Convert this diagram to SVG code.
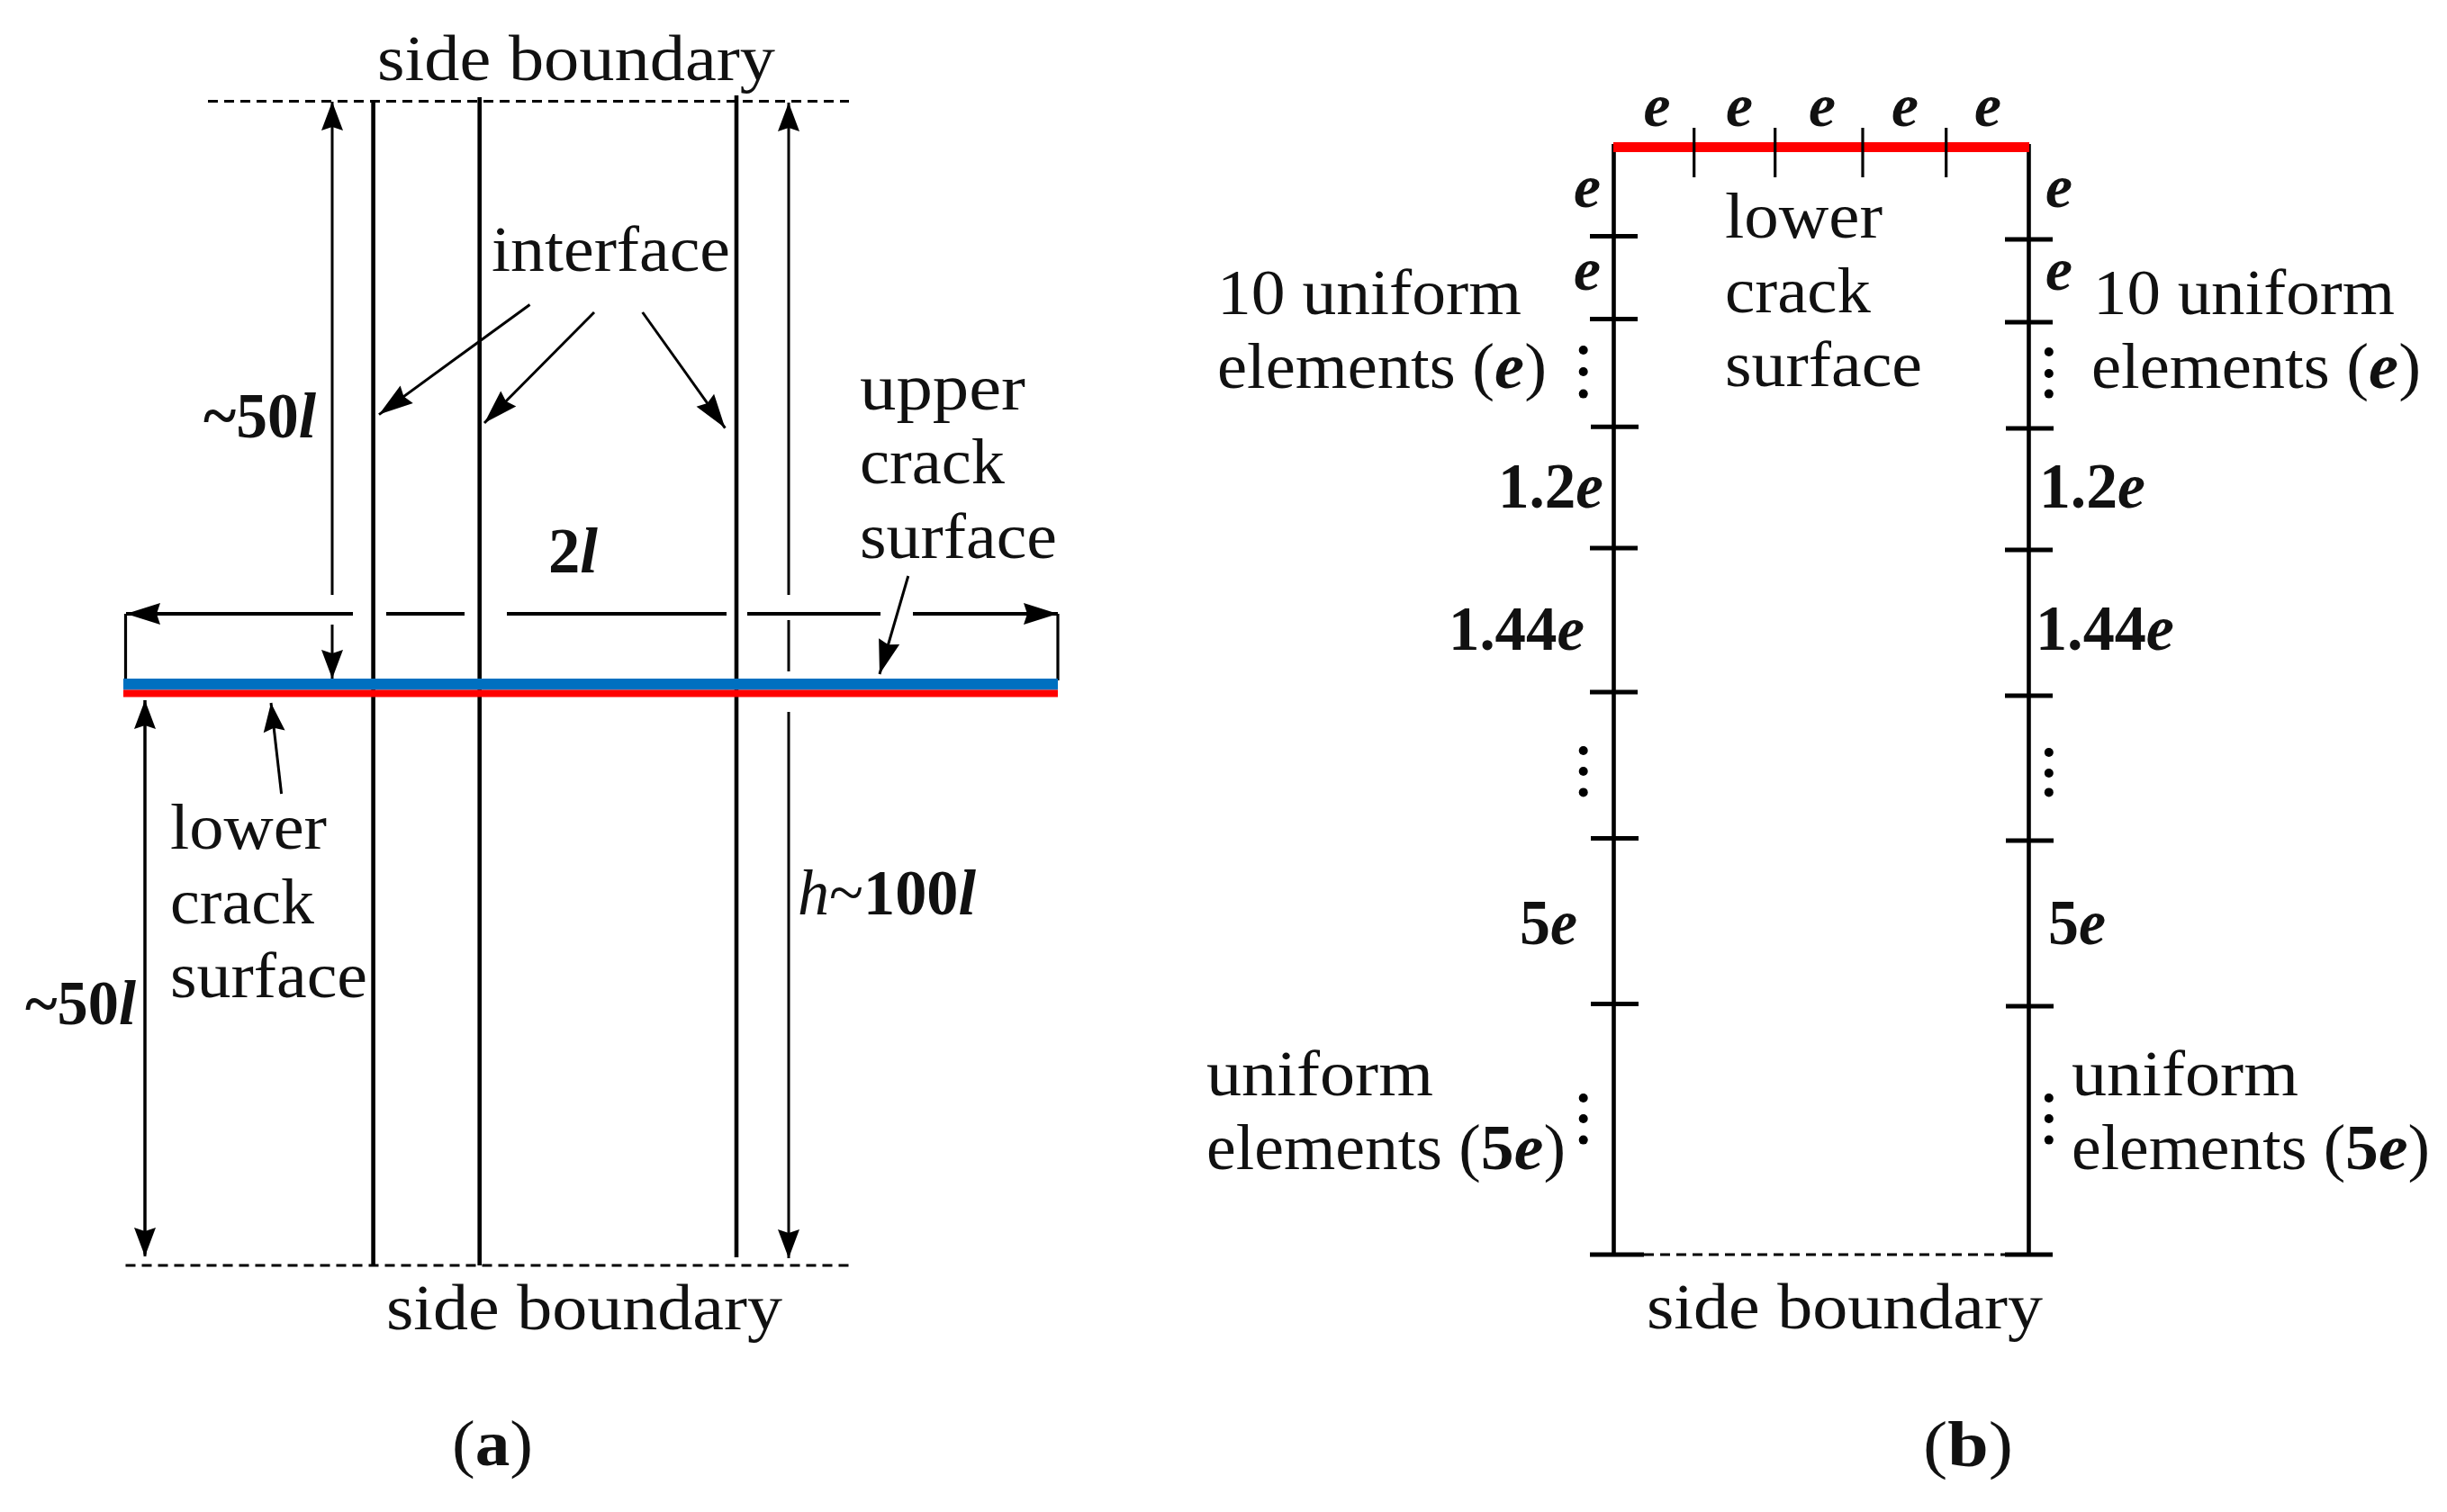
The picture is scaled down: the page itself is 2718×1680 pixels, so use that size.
<svg xmlns="http://www.w3.org/2000/svg" width="2718" height="1680" viewBox="0 0 2718 1680">
<style>
text{font-family:"Liberation Serif","Times New Roman",serif;font-size:72px;fill:#111}
.b{font-weight:bold}.i{font-style:italic}.bi{font-weight:bold;font-style:italic}
.e{font-size:68px;font-weight:bold;font-style:italic}
.n{font-size:69px}
.m{stroke:#000;stroke-width:4.6;fill:none}
.t{stroke:#000;stroke-width:3;fill:none}
.h{stroke:#000;stroke-width:4;fill:none}
.k{stroke:#000;stroke-width:5;fill:none}
.s{stroke:#000;stroke-width:3.2;fill:none}
.d{stroke:#000;stroke-width:3;stroke-dasharray:11 7;fill:none}
</style>
<defs>
<marker id="a" markerUnits="userSpaceOnUse" markerWidth="34" markerHeight="26" refX="33" refY="13" orient="auto"><path d="M1 1L33 13L1 25L5 13Z" fill="#000"/></marker>
<marker id="al" markerUnits="userSpaceOnUse" markerWidth="40" markerHeight="26" refX="39" refY="13" orient="auto"><path d="M1 1L39 13L1 25L5 13Z" fill="#000"/></marker>
</defs>
<rect width="2718" height="1680" fill="#fff"/>
<g id="panel-a-structure">
<path class="d" d="M231 112.5H943M139.5 1406H945"/>
<path class="m" d="M414.6 112V1406M532.7 108V1406M818 106V1397"/>
<path class="s" d="M139.5 682V756M1175 682V756"/>
<rect x="137" y="754" width="1038" height="12.5" fill="#0070c0"/>
<rect x="137" y="766.5" width="1038" height="8" fill="#f00"/>
</g>
<g id="connectors">
<path class="t" d="M369 661V113" marker-end="url(#a)"/>
<path class="t" d="M369 694V754" marker-end="url(#a)"/>
<path class="t" d="M876 661V114" marker-end="url(#a)"/>
<path class="t" d="M876 689V746"/>
<path class="t" d="M876 791V1398" marker-end="url(#a)"/>
<path class="t" d="M161 1394V778" marker-end="url(#a)"/>
<path class="t" d="M161 778V1396" marker-end="url(#a)"/>
<path class="h" d="M392 682H140" marker-end="url(#al)"/>
<path class="h" d="M429 682H516M563 682H807M830 682H978"/>
<path class="h" d="M1014 682H1175" marker-end="url(#al)"/>
<path class="t" d="M312.6 882L301 781" marker-end="url(#a)"/>
<path class="t" d="M588.5 338.5L421 460.6" marker-end="url(#al)"/>
<path class="t" d="M660 347L538 470" marker-end="url(#al)"/>
<path class="t" d="M713.7 347L805.4 475.6" marker-end="url(#al)"/>
<path class="t" d="M1008.8 640L977 749" marker-end="url(#al)"/>
</g>
<g id="panel-a-labels">
<text x="419" y="89" textLength="442" lengthAdjust="spacingAndGlyphs">side boundary</text>
<text x="546" y="301" textLength="265" lengthAdjust="spacingAndGlyphs">interface</text>
<text x="955" y="455" textLength="184" lengthAdjust="spacingAndGlyphs">upper</text>
<text x="955" y="537" textLength="161" lengthAdjust="spacingAndGlyphs">crack</text>
<text x="955" y="619.5" textLength="219" lengthAdjust="spacingAndGlyphs">surface</text>
<text x="226" y="486" textLength="125" lengthAdjust="spacingAndGlyphs" class="b">~50<tspan class="bi">l</tspan></text>
<text x="609" y="636" textLength="55" lengthAdjust="spacingAndGlyphs" class="b">2<tspan class="bi">l</tspan></text>
<text x="189" y="943" textLength="174" lengthAdjust="spacingAndGlyphs">lower</text>
<text x="189" y="1026" textLength="160" lengthAdjust="spacingAndGlyphs">crack</text>
<text x="189" y="1108" textLength="219" lengthAdjust="spacingAndGlyphs">surface</text>
<text x="28" y="1138" textLength="123" lengthAdjust="spacingAndGlyphs" class="b n">~50<tspan class="bi">l</tspan></text>
<text x="886" y="1016" textLength="198" lengthAdjust="spacingAndGlyphs"><tspan class="i">h</tspan>~<tspan class="b">100</tspan><tspan class="bi">l</tspan></text>
<text x="429" y="1477" textLength="440" lengthAdjust="spacingAndGlyphs">side boundary</text>
<text x="502" y="1628" textLength="90" lengthAdjust="spacingAndGlyphs">(<tspan class="b">a</tspan>)</text>
</g>
<g id="panel-b-structure">
<path class="m" d="M1792.5 160V1394M2253.5 160V1394"/>
<rect x="1792" y="158" width="462" height="11" fill="#f00"/>
<path class="s" d="M1881.7 142V197M1971.7 142V197M2069 142V197M2161.7 142V197"/>
<path class="k" d="M1766 262.5H1819M1766 354.4H1819M1767 474.3H1820M1766 609H1819M1766 769H1819M1767 931.4H1820M1767 1115.6H1820M1766 1394H1826"/>
<path class="k" d="M2227 266H2280M2227 358H2280M2228 476H2281M2227 611H2280M2227 773H2280M2228 934H2281M2228 1118H2281M2227 1394H2280"/>
<path class="d" d="M1826 1394H2228"/>
<g fill="#000">
<circle cx="1758.7" cy="389" r="5"/><circle cx="1758.7" cy="413" r="5"/><circle cx="1758.7" cy="437.6" r="5"/>
<circle cx="1758.7" cy="834" r="5"/><circle cx="1758.7" cy="857" r="5"/><circle cx="1758.7" cy="880.4" r="5"/>
<circle cx="1758.7" cy="1220" r="5"/><circle cx="1758.7" cy="1243" r="5"/><circle cx="1758.7" cy="1266.6" r="5"/>
<circle cx="2275.8" cy="391" r="5"/><circle cx="2275.8" cy="415" r="5"/><circle cx="2275.8" cy="437.6" r="5"/>
<circle cx="2275.8" cy="836" r="5"/><circle cx="2275.8" cy="859" r="5"/><circle cx="2275.8" cy="880.4" r="5"/>
<circle cx="2275.8" cy="1220" r="5"/><circle cx="2275.8" cy="1243" r="5"/><circle cx="2275.8" cy="1266.6" r="5"/>
</g>
</g>
<g id="panel-b-labels">
<text class="e" x="1825.5" y="140" textLength="30" lengthAdjust="spacingAndGlyphs">e</text>
<text class="e" x="1917" y="140" textLength="30" lengthAdjust="spacingAndGlyphs">e</text>
<text class="e" x="2009" y="140" textLength="30" lengthAdjust="spacingAndGlyphs">e</text>
<text class="e" x="2101" y="140" textLength="30" lengthAdjust="spacingAndGlyphs">e</text>
<text class="e" x="2193" y="140" textLength="30" lengthAdjust="spacingAndGlyphs">e</text>
<text class="e" x="1748" y="230" textLength="30" lengthAdjust="spacingAndGlyphs">e</text>
<text class="e" x="1748" y="322" textLength="30" lengthAdjust="spacingAndGlyphs">e</text>
<text class="e" x="2272" y="230" textLength="30" lengthAdjust="spacingAndGlyphs">e</text>
<text class="e" x="2272" y="322" textLength="30" lengthAdjust="spacingAndGlyphs">e</text>
<text x="1916" y="264" textLength="175" lengthAdjust="spacingAndGlyphs">lower</text>
<text x="1916" y="347" textLength="162" lengthAdjust="spacingAndGlyphs">crack</text>
<text x="1916" y="429" textLength="219" lengthAdjust="spacingAndGlyphs">surface</text>
<text x="1352" y="349" textLength="338" lengthAdjust="spacingAndGlyphs">10 uniform</text>
<text x="1352" y="431" textLength="366" lengthAdjust="spacingAndGlyphs">elements (<tspan class="bi">e</tspan>)</text>
<text x="2325" y="349" textLength="335" lengthAdjust="spacingAndGlyphs">10 uniform</text>
<text x="2323" y="431" textLength="366" lengthAdjust="spacingAndGlyphs">elements (<tspan class="bi">e</tspan>)</text>
<text x="1664" y="563.6" textLength="117" lengthAdjust="spacingAndGlyphs" class="b">1.2<tspan class="bi">e</tspan></text>
<text x="2265" y="563.6" textLength="118" lengthAdjust="spacingAndGlyphs" class="b">1.2<tspan class="bi">e</tspan></text>
<text x="1609" y="721.7" textLength="151" lengthAdjust="spacingAndGlyphs" class="b n">1.44<tspan class="bi">e</tspan></text>
<text x="2261" y="721.7" textLength="154" lengthAdjust="spacingAndGlyphs" class="b">1.44<tspan class="bi">e</tspan></text>
<text x="1688" y="1049" textLength="64" lengthAdjust="spacingAndGlyphs" class="b">5<tspan class="bi">e</tspan></text>
<text x="2275" y="1049" textLength="64" lengthAdjust="spacingAndGlyphs" class="b">5<tspan class="bi">e</tspan></text>
<text x="1340" y="1216.6" textLength="252" lengthAdjust="spacingAndGlyphs">uniform</text>
<text x="1340" y="1299" textLength="399" lengthAdjust="spacingAndGlyphs">elements (<tspan class="b">5</tspan><tspan class="bi">e</tspan>)</text>
<text x="2301" y="1216.6" textLength="252" lengthAdjust="spacingAndGlyphs">uniform</text>
<text x="2301" y="1299" textLength="398" lengthAdjust="spacingAndGlyphs">elements (<tspan class="b">5</tspan><tspan class="bi">e</tspan>)</text>
<text x="1829" y="1476" textLength="440" lengthAdjust="spacingAndGlyphs">side boundary</text>
<text x="2136" y="1629" textLength="100" lengthAdjust="spacingAndGlyphs">(<tspan class="b">b</tspan>)</text>
</g>
</svg>
